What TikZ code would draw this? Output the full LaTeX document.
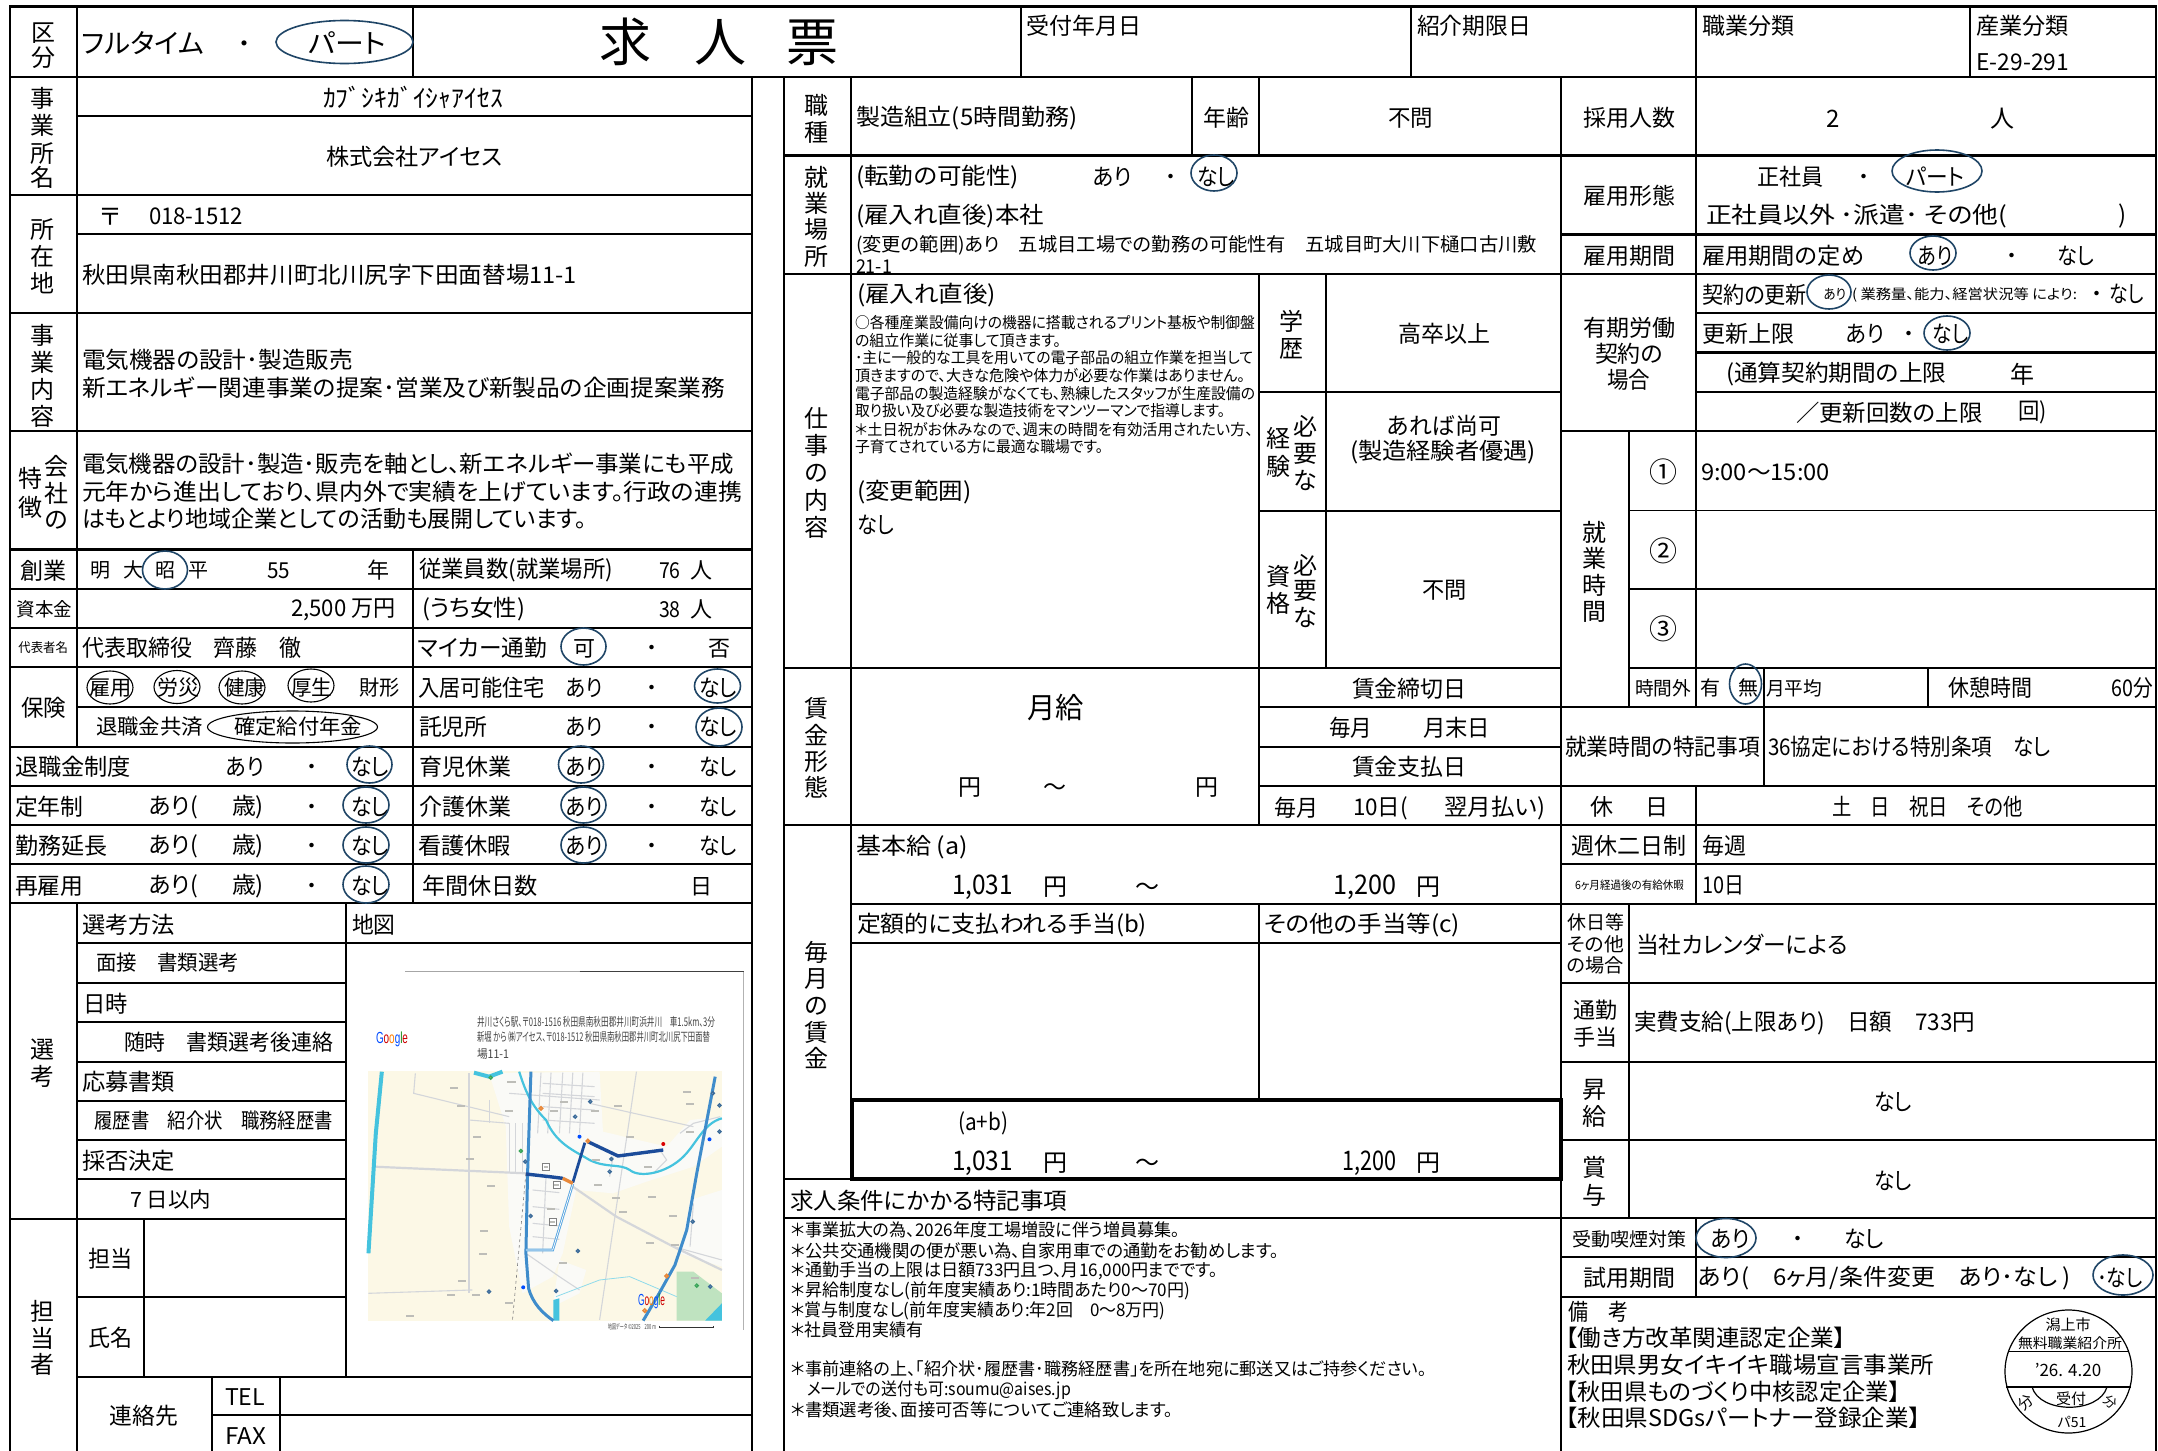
\documentclass[tikz,border=0pt]{standalone}
\usepackage{fontspec}
\usepackage{graphicx}
\setmainfont{Noto Sans CJK JP}[RawFeature={+palt}]
\newfontfamily\gfont{Liberation Sans}
\definecolor{ovl}{HTML}{1F4566}
\definecolor{mapbg}{HTML}{FCF8E6}
\definecolor{townw}{HTML}{FAFAF7}
\definecolor{parkg}{HTML}{BFE3C0}
\definecolor{riverc}{HTML}{45C3DE}
\definecolor{roadb}{HTML}{3F8CCB}
\definecolor{routeb}{HTML}{1C4C9A}
\definecolor{routel}{HTML}{5AA6E0}
\definecolor{mapg}{HTML}{D4D6DA}
\definecolor{poi}{HTML}{3D6C9A}
\definecolor{txg}{HTML}{444444}
\definecolor{smg}{HTML}{BDBDB8}
\definecolor{orgm}{HTML}{E8883A}
\definecolor{grnm}{HTML}{3BA65A}
\tikzset{
  gk/.style={line width=2.3pt,line cap=rect,black},
  gn/.style={line width=1.2pt,black},
  ov/.style={draw=ovl,line width=1.6pt},
  ovk/.style={draw=black,line width=1.1pt},
  txt/.style={inner sep=0pt,outer sep=0pt},
  mr/.style={line width=2.2pt,riverc,line join=round},
  mg/.style={line width=1.1pt,mapg},
}
\newcounter{tn}
\newcommand{\fitbox}[2]{\ifdim#1pt=0pt\relax#2\else\resizebox{#1pt}{\height}{#2}\fi}
\newcommand{\putt}[6]{\stepcounter{tn}\node[txt,anchor=#1] (t\arabic{tn}) at (#3,#4) {\fontsize{#2}{#2}\selectfont\fitbox{#5}{\vphantom{漢}#6}};}
\newcommand{\TL}[5][23]{\putt{west}{#1}{#2}{#3}{#4}{#5}}
\newcommand{\TC}[5][23]{\putt{center}{#1}{#2}{#3}{#4}{#5}}
\newcommand{\HK}[3]{\draw[gk] (#2,#1) -- (#3,#1);}
\newcommand{\HN}[3]{\draw[gn] (#2,#1) -- (#3,#1);}
\newcommand{\VK}[3]{\draw[gk] (#1,#2) -- (#1,#3);}
\newcommand{\VN}[3]{\draw[gn] (#1,#2) -- (#1,#3);}
\newcommand{\OV}[4]{\draw[ov] (#1,#2) ellipse [x radius=#3,y radius=#4];}
\newcommand{\OK}[4]{\draw[ovk] (#1,#2) ellipse [x radius=#3,y radius=#4];}
\begin{document}
\begin{tikzpicture}[x=1pt,y=-1pt]
\useasboundingbox (0,0) rectangle (2158,1451);
\fill[white] (0,0) rectangle (2158,1451);

% ===== map =====
\begin{scope}[shift={(345,960)},x=0.335pt,y=-0.3333pt]
\draw[line width=0.7pt,black!35] (180,35) -- (700,35);
\draw[line width=1pt,black!75] (700,35) -- (1190,35);
\draw[line width=0.8pt,black!30] (1190,35) -- (1190,1110);
\fill[mapbg] (68,333) rectangle (1125,1082);
\fill[townw] (430,340) -- (760,335) -- (770,515) -- (960,560) -- (1030,480) -- (1125,470) -- (1125,560) -- (1040,620) -- (900,665) -- (800,700) -- (690,690) -- (650,880) -- (620,950) -- (530,1000) -- (490,800) -- (480,500) -- cycle;
\fill[townw] (1030,720) -- (1125,690) -- (1125,920) -- (1000,880) -- cycle;
\fill[townw] (640,900) -- (720,930) -- (700,1000) -- (620,1040) -- cycle;
\fill[parkg] (990,935) -- (1040,935) -- (1125,1000) -- (1125,1082) -- (990,1082) -- cycle;
\fill[riverc] (1075,1082) -- (1125,1030) -- (1125,1082) -- cycle;
\fill[riverc] (622,1020) -- (640,1015) -- (640,1082) -- (622,1082) -- cycle;
% grey roads
\draw[line width=2.2pt,mapg] (85,620) -- (540,640);
\draw[line width=2.2pt,mapg] (680,680) -- (810,770) -- (980,860) -- (1125,930);
\draw[mg] (210,340) -- (205,400) -- (490,470);
\draw[mg] (370,480) -- (490,490);
\draw[mg] (370,340) -- (370,1000);
\draw[mg] (730,430) -- (1040,500);
\draw[mg] (870,335) -- (760,1080);
\draw[mg] (490,400) -- (760,420);
\draw[mg] (430,420) -- (430,490);
\foreach \q in {585,615,650,680,710} {\draw[mg] (\q,338) -- (\q-10,520);}
\foreach \q in {370,400,440,480} {\draw[mg] (590,\q) -- (745,\q+10);}
\foreach \q in {490,510,530} {\draw[mg] (\q,490) -- (\q,640);}
\foreach \q in {690,740,790,830} {\draw[mg] (560,\q) -- (640,\q+8);}
\draw[mg] (600,650) -- (590,880);
\draw[mg] (540,880) -- (640,950) -- (700,990);
\draw[mg] (1000,520) -- (1040,490) -- (1120,470);
\draw[mg] (940,570) -- (960,600) -- (920,640);
\draw[mg] (800,590) -- (790,650);
\draw[mg] (1040,730) -- (1030,860);
\draw[mg] (980,860) -- (1125,900);
\draw[mg] (70,1000) -- (380,990);
\draw[line width=0.6pt,gray,dashed] (540,640) -- (500,1080);
\draw[line width=0.8pt,riverc!60] (630,1010) -- (760,960) -- (850,950) -- (990,1010);
% rivers
\draw[line width=4pt,riverc] (110,335) -- (92,520) -- (70,880);
\draw[mr,line width=4pt] (385,338) -- (430,350) -- (470,335);
\draw[mr] (520,335) .. controls (540,400) and (560,440) .. (600,480) .. controls (630,550) and (680,570) .. (730,600) .. controls (780,625) and (820,610) .. (850,630) .. controls (880,655) and (960,640) .. (1010,590) .. controls (1050,550) and (1070,490) .. (1125,475);
% main blue roads
\draw[line width=3pt,roadb] (555,335) -- (545,640) -- (540,880) -- (548,985) .. controls (560,1030) and (590,1060) .. (622,1082);
\draw[line width=3pt,roadb] (1105,350) -- (1050,640) -- (1020,810) -- (985,915) -- (935,1005) -- (890,1082);
% route
\draw[line width=2.6pt,routel] (680,672) -- (620,870) -- (540,870);
\draw[line width=0.7pt,white] (680,672) -- (620,870) -- (540,870);
\draw[line width=3.4pt,routeb,line join=round] (950,570) -- (815,588) -- (725,545);
\draw[line width=2.8pt,routeb,line join=round] (716,548) -- (680,668);
\draw[line width=3.4pt,routeb,line join=round] (540,642) -- (610,650) -- (650,655);
\draw[line width=3.4pt,orgm] (650,655) -- (680,670);
\fill[red!85!black] (950,552) circle[radius=6];
% labels smudges
\foreach \a/\b in {325/385,345/438,395/530,372/598,435/677,415/812,412/882,350/962,390/1005,315/1005,195/1067,490/1030,755/675,808/715,830/755,917/710,980/768,910/850,985/855,1020/395,815/437,850/532,905/622,497/367,490/453,625/453,655/425,750/600,745/452,1030/432,1030/515,615/748,650/910,1045/955}
  {\fill[smg] (\a-12,\b-3) rectangle (\a+12,\b+3);}
\foreach \a/\b in {600/620,632/675,620/785}
  {\filldraw[fill=white,draw=gray,line width=0.5pt] (\a-11,\b-11) rectangle (\a+11,\b+11); \fill[smg] (\a-7,\b-3) rectangle (\a+7,\b+3);}
% markers
\foreach \a/\b in {732/425,687/470,795/597,790/635,554/768,695/873,630/993,430/995,1038/785,1098/400,1118/436,1118/515,1090/980,538/605}
  {\filldraw[fill=white,draw=poi,line width=1.4pt] (\a,\b) circle[radius=4.5];}
\foreach \a/\b in {435/353,525/573,1050/977}
  {\filldraw[fill=white,draw=grnm,line width=1.4pt] (\a,\b) circle[radius=4.5];}
\foreach \a/\b in {585/445,725/543,960/948,895/1052}
  {\filldraw[fill=white,draw=orgm,line width=1.6pt] (\a,\b) circle[radius=5];}
\foreach \a/\b in {1088/538,700/530,532/982}
  {\fill[blue!70!cyan] (\a,\b) circle[radius=6];}
\draw[line width=0.9pt,black!80] (940,1103) -- (1100,1103) (940,1098) -- (940,1103) (1100,1098) -- (1100,1103);
\end{scope}
\TL[12]{477}{1022}{238}{\textcolor{txg}{井川さくら駅、〒018-1516 秋田県南秋田郡井川町浜井川　車1.5km、3分}}
\TL[12]{477}{1037}{233}{\textcolor{txg}{新堀 から ㈱アイセス、〒018-1512 秋田県南秋田郡井川町北川尻下田面替}}
\TL[12]{477}{1054}{32}{\textcolor{txg}{場11-1}}
\TL[7]{608}{1327}{48}{\textcolor{txg}{地図データ ©2025　200 m}}
\TL[16]{376}{1038}{32}{\gfont\textcolor{blue!70!cyan}{G}\textcolor{red!80!black}{o}\textcolor{orange}{o}\textcolor{blue!70!cyan}{g}\textcolor{green!50!black}{l}\textcolor{red!80!black}{e}}
\TL[16]{638}{1300}{27}{\gfont\textcolor{blue!70!cyan}{G}\textcolor{red!80!black}{o}\textcolor{orange}{o}\textcolor{blue!70!cyan}{g}\textcolor{green!50!black}{l}\textcolor{red!80!black}{e}}

% ===== grid =====
\HK{6.4}{10}{2156} \HK{76.8}{10}{2156}
\HN{116}{77}{752} \HN{234}{77}{752}
\HK{195}{10}{752} \HK{313}{10}{752} \HK{431}{10}{752}
\HK{549.5}{10}{752} \HK{589}{10}{752} \HK{628}{10}{752} \HK{667}{10}{752}
\HK{707}{77}{752} \HK{747}{10}{752} \HK{786}{10}{752} \HK{825}{10}{752} \HK{864}{10}{752} \HK{903}{10}{752}
\HN{943}{77}{752} \HK{983}{77}{346} \HN{1022}{77}{346} \HK{1062}{77}{346} \HN{1101}{77}{346} \HK{1140}{77}{346} \HN{1179}{77}{346}
\HK{1219}{10}{346} \HN{1297}{77}{346} \HK{1377}{77}{752} \HN{1415}{212}{752}
\VK{10}{6.4}{1451} \VK{77}{6.4}{747} \VK{77}{903}{1451} \VK{413}{6.4}{76.8} \VK{413}{549.5}{903}
\VK{346}{903}{1377} \VK{144}{1219}{1377} \VK{212}{1377}{1451} \VK{280}{1377}{1451} \VK{752}{76.8}{1451}
\VK{1021}{6.4}{76.8} \VK{1411}{6.4}{76.8} \VK{1970}{6.4}{76.8}
\VK{784}{76.8}{1451} \VK{851}{76.8}{1179} \VK{1192}{76.8}{155.4} \VK{1259}{76.8}{155.4} \VK{1259}{274}{825} \VN{1259}{904}{1100}
\VK{1326}{274}{667.7} \VK{1561}{76.8}{1451} \VK{2156}{6.4}{1451}
\HK{155.4}{784}{2156} \HK{274}{784}{2156} \HK{667.7}{784}{1561} \HK{667.7}{1629}{2156} \HK{825}{784}{2156} \HK{904}{851}{2156}
\HK{943}{851}{1561} \HK{1218}{784}{2156}
\HN{392}{1259}{1561} \HN{511}{1259}{1561} \HN{707}{1259}{1561} \HK{747}{1259}{1561} \HN{786}{1259}{1561}
\HK{234.6}{1561}{2156} \HK{313}{1696}{2156} \HK{352.5}{1696}{2156} \HK{392}{1696}{2156} \HK{431}{1561}{2156}
\HN{510.7}{1629}{2156} \HN{589}{1629}{2156} \HK{707}{1561}{2156} \HK{786}{1561}{2156} \HK{864}{1561}{2156}
\HK{983}{1561}{2156} \HK{1061.7}{1561}{2156} \HK{1140}{1561}{2156} \HK{1257}{1561}{2156} \HK{1297}{1561}{2156}
\VK{1696}{6.4}{707} \VK{1696}{786}{904} \VK{1696}{1218}{1297}
\VK{1629}{431}{707} \VK{1629}{904}{1218} \VK{1764}{667.7}{786} \VK{1928}{667.7}{707}
\HK{1179}{784}{852}
\draw[line width=4.6pt,black] (852,1100) rectangle (1561,1179);

% ===== top row =====
\TC[24]{43}{32}{0}{区} \TC[24]{43}{57}{0}{分}
\TL[27]{82}{43}{122}{フルタイム} \TC[24]{244}{43}{0}{・} \TL[27]{308}{43}{78}{パート}
\TC[52]{625}{42}{0}{求} \TC[52]{720}{42}{0}{人} \TC[52]{812}{42}{0}{票}
\TL{1026}{26}{115}{受付年月日} \TL{1417}{26}{114}{紹介期限日} \TL{1702}{26}{92}{職業分類} \TL{1976.5}{26}{92.5}{産業分類} \TL{1976.5}{61.5}{92.5}{E-29-291}

% ===== left column =====
\TC[24]{42}{98}{0}{事} \TC[24]{42}{125}{0}{業} \TC[24]{42}{153}{0}{所} \TC[24]{42}{177.5}{0}{名}
\TL[25]{323}{98}{180}{ｶﾌﾞｼｷｶﾞｲｼｬｱｲｾｽ}
\TL{326}{157}{176.5}{株式会社アイセス}
\TC[24]{42}{229}{0}{所} \TC[24]{42}{256}{0}{在} \TC[24]{42}{283}{0}{地}
\TC[24]{110}{216}{0}{〒} \TL{149}{216}{94}{018-1512}
\TL{82}{275}{495}{秋田県南秋田郡井川町北川尻字下田面替場11-1}
\TC[24]{42}{335}{0}{事} \TC[24]{42}{362}{0}{業} \TC[24]{42}{389}{0}{内} \TC[24]{42}{416}{0}{容}
\TL{82}{360}{271}{電気機器の設計･製造販売}
\TL{82}{387.5}{643}{新エネルギー関連事業の提案･営業及び新製品の企画提案業務}
\TC[24]{30}{478.6}{0}{特} \TC[24]{30}{507}{0}{徴} \TC[24]{56}{466}{0}{会} \TC[24]{56}{493}{0}{社} \TC[24]{56}{519}{0}{の}
\TL{82}{464}{652}{電気機器の設計･製造･販売を軸とし、新エネルギー事業にも平成}
\TL{82}{492}{660}{元年から進出しており、県内外で実績を上げています。行政の連携}
\TL{82}{518.6}{505}{はもとより地域企業としての活動も展開しています。}
% rows
\TL{20}{570.5}{46}{創業} \TC[20]{100}{570}{0}{明} \TC[20]{133}{570}{0}{大} \TC[20]{165}{570}{0}{昭} \TC[20]{198}{570}{0}{平} \TL[22]{267}{570}{23}{55} \TC[22]{378}{570}{0}{年}
\TL{419}{570}{194}{従業員数(就業場所)} \TL[22]{659}{570}{21.6}{76} \TC[22]{701}{570}{0}{人}
\TL[19]{16.5}{609}{55.5}{資本金} \TL{291}{609}{104.5}{2,500 万円} \TL{422}{609}{103}{(うち女性)} \TL[22]{659}{609}{21.6}{38} \TC[22]{701}{609}{0}{人}
\TL[13]{18.5}{648}{49.5}{代表者名} \TL{82}{648}{220}{代表取締役　齊藤　徹} \TL{418}{648}{129}{マイカー通勤} \TC[22]{584}{648}{0}{可} \TC[21]{652}{648}{0}{・} \TC[22]{719}{648}{0}{否}
\TL{21}{707.5}{45}{保険}
\TL[21]{89.5}{688}{42.5}{雇用} \TL[21]{157}{688}{42}{労災} \TL[21]{224}{688}{41}{健康} \TL[21]{291}{688}{41}{厚生} \TL[21]{359}{688}{40.5}{財形}
\TL{418}{688}{127}{入居可能住宅} \TL{566}{688}{37}{あり} \TC[21]{652}{688}{0}{・} \TL{699}{688}{38}{なし}
\TL[21]{96}{727}{107}{退職金共済} \TL[21]{234}{727}{128}{確定給付年金}
\TL{419}{727}{68.5}{託児所} \TL{566}{727}{37}{あり} \TC[21]{652}{727}{0}{・} \TL{699}{727}{38}{なし}
\TL{15}{767}{116}{退職金制度} \TL{226}{767}{38}{あり} \TC[21]{312}{767}{0}{・} \TL{351}{767}{38}{なし}
\TL{419}{767}{92}{育児休業} \TL{566}{767}{37}{あり} \TC[21]{652}{767}{0}{・} \TL{699}{767}{38}{なし}
\TL{15}{807}{68.5}{定年制} \TL{149}{807}{49}{あり(} \TL{232}{807}{32}{歳)} \TC[21]{312}{807}{0}{・} \TL{351}{807}{38}{なし}
\TL{419}{807}{92}{介護休業} \TL{566}{807}{37}{あり} \TC[21]{652}{807}{0}{・} \TL{699}{807}{38}{なし}
\TL{15}{846}{92}{勤務延長} \TL{149}{846}{49}{あり(} \TL{232}{846}{32}{歳)} \TC[21]{312}{846}{0}{・} \TL{351}{846}{38}{なし}
\TL{418}{846}{93}{看護休暇} \TL{566}{846}{37}{あり} \TC[21]{652}{846}{0}{・} \TL{699}{846}{38}{なし}
\TL{15}{886}{68.5}{再雇用} \TL{149}{886}{49}{あり(} \TL{232}{886}{32}{歳)} \TC[21]{312}{886}{0}{・} \TL{351}{886}{38}{なし}
\TL{422}{886}{116}{年間休日数} \TC[22]{701}{886}{0}{日}
% selection
\TL{82}{925}{93}{選考方法} \TL{352}{925}{43.5}{地図}
\TL[21]{96}{963}{143}{面接　書類選考} \TL{83.5}{1003.6}{44.5}{日時} \TL[22]{124}{1042}{209}{随時　書類選考後連絡}
\TL{82}{1081.7}{93}{応募書類} \TL[21]{94.5}{1121}{238.5}{履歴書　紹介状　職務経歴書}
\TL{82}{1161}{93}{採否決定} \TL[21]{130}{1200}{81}{7 日以内}
\TC[24]{42}{1049}{0}{選} \TC[24]{42}{1076}{0}{考}
\TC[24]{42}{1311}{0}{担} \TC[24]{42}{1338.5}{0}{当} \TC[24]{42}{1364.5}{0}{者}
\TL{88.5}{1259}{44.5}{担当} \TL{88.5}{1337.5}{44}{氏名} \TL{109.5}{1415.5}{68.5}{連絡先} \TL{225}{1397}{40}{TEL} \TL{225}{1436}{41}{FAX}

% ===== middle column =====
\TC[24]{816}{105}{0}{職} \TC[24]{816}{132}{0}{種}
\TL{856}{118}{221.5}{製造組立(5時間勤務)} \TL{1203}{118}{46}{年齢} \TL{1388}{118}{45}{不問}
\TC[24]{816}{177.5}{0}{就} \TC[24]{816}{203.6}{0}{業} \TC[24]{816}{229.6}{0}{場} \TC[24]{816}{256.4}{0}{所}
\TL{856}{177}{163}{(転勤の可能性)} \TL{1093}{177}{39}{あり} \TC[21]{1170.5}{177}{0}{・} \TL{1197}{177}{38}{なし}
\TL{856}{216}{188}{(雇入れ直後)本社}
\TL[19]{856}{245}{681}{(変更の範囲)あり　五城目工場での勤務の可能性有　五城目町大川下樋口古川敷}
\TL[19]{856}{266}{36}{21-1}
\TL{857}{294.6}{139}{(雇入れ直後)}
\TL[15.5]{855}{323}{400}{○各種産業設備向けの機器に搭載されるプリント基板や制御盤}
\TL[15.5]{855}{341}{206}{の組立作業に従事して頂きます。}
\TL[15.5]{855}{358}{398}{･主に一般的な工具を用いての電子部品の組立作業を担当して}
\TL[15.5]{855}{376}{390}{頂きますので、大きな危険や体力が必要な作業はありません。}
\TL[15.5]{855}{394}{400}{電子部品の製造経験がなくても、熟練したスタッフが生産設備の}
\TL[15.5]{855}{411}{370}{取り扱い及び必要な製造技術をマンツーマンで指導します。}
\TL[15.5]{855}{430}{398}{＊土日祝がお休みなので、週末の時間を有効活用されたい方、}
\TL[15.5]{855}{447}{248}{子育てされている方に最適な職場です。}
\TL{857}{492}{114.5}{(変更範囲)} \TL{857}{525}{37}{なし}
\TC[24]{816}{418.6}{0}{仕} \TC[24]{816}{445.7}{0}{事} \TC[24]{816}{472}{0}{の} \TC[24]{816}{500.7}{0}{内} \TC[24]{816}{527}{0}{容}
\TC[24]{1291}{321}{0}{学} \TC[24]{1291}{348}{0}{歴} \TL{1398}{334}{92}{高卒以上}
\TC[24]{1278.5}{438.6}{0}{経} \TC[24]{1278.5}{466}{0}{験} \TC[24]{1305}{426}{0}{必} \TC[24]{1305}{453}{0}{要} \TC[24]{1305}{480}{0}{な}
\TL{1387}{426}{114}{あれば尚可} \TL{1350}{452}{186}{(製造経験者優遇)}
\TC[24]{1278.5}{576.7}{0}{資} \TC[24]{1278.5}{603}{0}{格} \TC[24]{1305}{565}{0}{必} \TC[24]{1305}{590.7}{0}{要} \TC[24]{1305}{617}{0}{な}
\TL{1422}{590}{44.5}{不問}
\TC[24]{816}{708}{0}{賃} \TC[24]{816}{735}{0}{金} \TC[24]{816}{761.7}{0}{形} \TC[24]{816}{787}{0}{態}
\TL[29]{1027}{708}{56.5}{月給} \TC[23]{970}{787}{0}{円} \TC[23]{1055}{787}{0}{～} \TC[23]{1207}{787}{0}{円}
\TL{1352}{689}{114.5}{賃金締切日} \TL{1329}{728}{43}{毎月} \TL{1423}{728}{67}{月末日}
\TL{1352}{767}{114.5}{賃金支払日} \TL{1274}{808}{44}{毎月} \TL{1353}{808}{55}{10日(} \TL{1444}{808}{101}{翌月払い)}
\TL{856}{847}{112}{基本給 (a)}
\TL[27]{952}{886}{61}{1,031} \TC[24]{1055}{886}{0}{円} \TC[24]{1147}{886}{0}{～} \TL[27]{1333}{886}{63}{1,200} \TC[24]{1428}{886}{0}{円}
\TL{857}{925}{290}{定額的に支払われる手当(b)} \TL{1264}{925}{196}{その他の手当等(c)}
\TC[24]{816}{952}{0}{毎} \TC[24]{816}{978}{0}{月} \TC[24]{816}{1005}{0}{の} \TC[24]{816}{1032}{0}{賃} \TC[24]{816}{1058}{0}{金}
\TL{958}{1123}{50}{(a+b)}
\TL[27]{952}{1162}{61}{1,031} \TC[24]{1055}{1162}{0}{円} \TC[24]{1147}{1162}{0}{～} \TL[27]{1342}{1162}{54}{1,200} \TC[24]{1428}{1162}{0}{円}
\TL{790}{1201}{277.5}{求人条件にかかる特記事項}
\TL[17.5]{791}{1230}{389}{＊事業拡大の為、2026年度工場増設に伴う増員募集。}
\TL[17.5]{791}{1250.7}{488}{＊公共交通機関の便が悪い為、自家用車での通勤をお勧めします。}
\TL[17.5]{791}{1270.7}{427}{＊通勤手当の上限は日額733円且つ、月16,000円までです。}
\TL[17.5]{791}{1290.7}{399}{＊昇給制度なし(前年度実績あり:1時間あたり0～70円)}
\TL[17.5]{791}{1310.7}{374.6}{＊賞与制度なし(前年度実績あり:年2回　0～8万円)}
\TL[17.5]{791}{1330}{132}{＊社員登用実績有}
\TL[17.5]{791}{1369}{636}{＊事前連絡の上、｢紹介状･履歴書･職務経歴書｣を所在地宛に郵送又はご持参ください。}
\TL[17.5]{807}{1390}{264}{メールでの送付も可:soumu@aises.jp}
\TL[17.5]{791}{1410}{382}{＊書類選考後、面接可否等についてご連絡致します。}

% ===== right column =====
\TL{1583}{118}{92}{採用人数} \TC[24]{1833.6}{118}{0}{2} \TC[24]{2002.6}{118}{0}{人}
\TL{1583}{195.7}{92}{雇用形態} \TL{1757.5}{177}{66.5}{正社員} \TC[21]{1864}{177}{0}{・} \TL{1906}{177}{58.5}{パート}
\TL{1706}{216}{301}{正社員以外 ･派遣･ その他(} \TC[24]{2123}{216}{0}{)}
\TL{1583}{256}{92}{雇用期間} \TL{1702}{256}{162}{雇用期間の定め} \TL{1918}{256}{34.5}{あり} \TC[21]{2012}{256}{0}{・} \TL{2057}{256}{37}{なし}
\TL{1702}{294.6}{105}{契約の更新} \TL[14]{1823.5}{294.6}{22.5}{あり} \TL[14]{1852}{294.6}{225}{( 業務量、能力、経営状況等 により:} \TC[21]{2097}{294}{0}{・} \TL{2109.5}{294}{34.5}{なし}
\TL{1702}{334}{92}{更新上限} \TL{1846}{334}{38.4}{あり} \TC[21]{1908.5}{334}{0}{・} \TL{1932.5}{334}{36}{なし}
\TL{1726}{374}{220.5}{(通算契約期間の上限} \TC[24]{2022}{374}{0}{年}
\TL{1796}{412.5}{186.5}{／更新回数の上限} \TL{2018}{412.5}{28.6}{回)}
\TL{1583}{328}{92}{有期労働} \TL{1595}{353.6}{68}{契約の} \TL{1607}{380}{43}{場合}
\TC[24]{1594}{532}{0}{就} \TC[24]{1594}{558}{0}{業} \TC[24]{1594}{585}{0}{時} \TC[24]{1594}{611}{0}{間}
\TC[28]{1663}{472}{0}{①} \TC[28]{1663}{551}{0}{②} \TC[28]{1663}{629}{0}{③}
\TL{1701}{472}{129}{9:00～15:00}
\TL[19]{1635}{688}{56}{時間外} \TC[20]{1710}{688}{0}{有} \TC[20]{1748}{688}{0}{無} \TL[19]{1766}{688}{56}{月平均} \TL{1948}{688}{84}{休憩時間} \TL{2111.5}{688}{41.5}{60分}
\TL{1565}{747}{195}{就業時間の特記事項} \TL{1768}{747}{282.6}{36協定における特別条項　なし}
\TC{1602}{807}{0}{休} \TC{1657}{807}{0}{日} \TL{1832}{807}{191}{土　日　祝日　その他}
\TL{1571}{845.7}{115}{週休二日制} \TL{1702}{846}{44}{毎週}
\TL[11.5]{1575}{885}{109}{6ヶ月経過後の有給休暇} \TL{1702}{885}{42}{10日}
\TL[19]{1567}{922}{57}{休日等} \TL[19]{1567}{944}{57}{その他} \TL[19]{1567}{965.7}{57}{の場合}
\TL{1636}{945}{211.6}{当社カレンダーによる}
\TL[22]{1573}{1010}{44}{通勤} \TL[22]{1573}{1036.7}{44}{手当} \TL{1634}{1023}{341}{実費支給(上限あり)　日額　733円}
\TC[24]{1594}{1089}{0}{昇} \TC[24]{1594}{1116.7}{0}{給} \TL{1874}{1101.7}{38}{なし}
\TC[24]{1594}{1167.7}{0}{賞} \TC[24]{1594}{1195}{0}{与} \TL{1874}{1180.7}{38}{なし}
\TL[19]{1572}{1239}{114}{受動喫煙対策} \TL{1711}{1239}{39}{あり} \TC[21]{1797.5}{1239}{0}{・} \TL{1844}{1239}{40}{なし}
\TL{1583}{1278}{92}{試用期間} \TL{1698}{1278}{373}{あり(　6ヶ月/条件変更　あり･なし )} \TL{2097}{1278}{46}{･なし}
\TL{1568}{1311.7}{60}{備　考}
\TL{1566}{1338}{280}{【働き方改革関連認定企業】}
\TL{1567}{1365}{367}{秋田県男女イキイキ職場宣言事業所}
\TL{1566}{1391.7}{334.5}{【秋田県ものづくり中核認定企業】}
\TL{1566}{1418}{354.5}{【秋田県SDGsパートナー登録企業】}

% ===== stamp =====
\draw[line width=1.2pt] (2068.5,1371.5) ellipse [x radius=63.5,y radius=61.5];
\draw[line width=1.2pt] (2008,1351.7) -- (2129,1351.7) (2006,1387) -- (2131,1387);
\draw[line width=1.2pt] (2032,1387) .. controls (2040,1414) and (2099,1414) .. (2107,1387);
\TC[15]{2068}{1325}{0}{潟上市} \TL[14]{2018}{1343}{104}{無料職業紹介所}
\TC[17]{2068}{1370}{0}{'26. 4.20} \TC[15]{2071}{1399}{0}{受付}
\stepcounter{tn}\node[txt,rotate=40] (t\arabic{tn}) at (2026,1402) {\fontsize{15}{15}\selectfont 分};
\stepcounter{tn}\node[txt,rotate=-40] (t\arabic{tn}) at (2111,1402) {\fontsize{13}{13}\selectfont 分};
\TC[14]{2072}{1422}{0}{パ51}

% ===== ovals =====
\OV{344.5}{42}{68.5}{21.5} \OV{1214}{173}{23}{18} \OV{1937}{171}{45}{21} \OV{1933}{253}{23}{17} \OV{1829}{292}{22}{17} \OV{1947}{333}{23}{17}
\OV{165}{570}{22.5}{19} \OV{583.5}{646.5}{22.5}{18.5}
\OK{110}{687.5}{23}{16.5} \OK{177}{687}{23}{16.5} \OK{242}{687.5}{23}{16.5} \OK{311}{685.5}{23}{16.5} \OK{292.5}{727}{85}{16}
\OV{717.5}{686}{23}{17} \OV{719}{727}{23}{19} \OV{369.5}{764.5}{22.5}{18.5} \OV{581}{764.5}{22.5}{18.5}
\OV{366}{805}{23}{18} \OV{583.5}{805}{22.5}{18} \OV{366}{845}{23}{18} \OV{583.5}{845}{22.5}{18} \OV{366}{884.5}{23}{18.5}
\OV{1745.5}{684}{16}{20} \OV{1726}{1238}{30}{19.5} \OV{2123}{1275}{30}{20}
\end{tikzpicture}
\end{document}
